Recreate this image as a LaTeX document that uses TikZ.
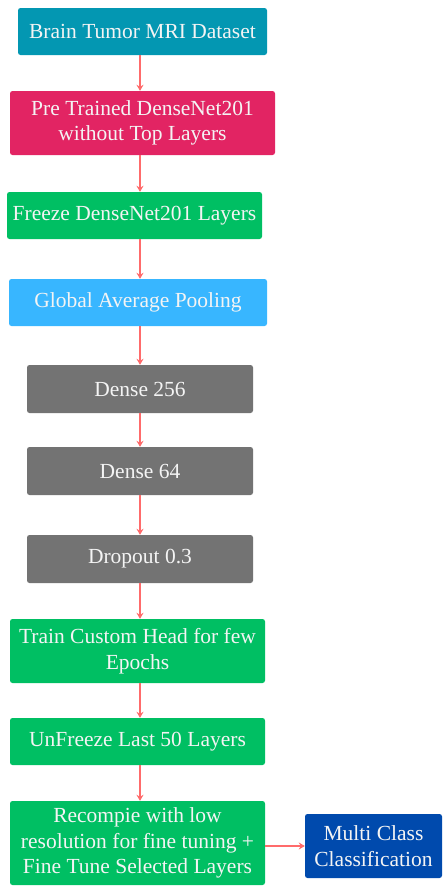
\documentclass[tikz,border=0pt]{standalone}
\usepackage{fontspec}
\setmainfont{Liberation Serif}
\usetikzlibrary{arrows.meta}
\definecolor{cteal}{HTML}{0397B2}
\definecolor{cpink}{HTML}{E22463}
\definecolor{cgreen}{HTML}{00BF63}
\definecolor{cblue}{HTML}{38B6FF}
\definecolor{cgray}{HTML}{737373}
\definecolor{cnavy}{HTML}{004AAD}
\definecolor{carrow}{HTML}{FF6B6B}
\definecolor{ctext}{HTML}{F4F4F4}
\begin{document}
\begin{tikzpicture}[x=1pt,y=-1pt,
  box/.style={rectangle, rounded corners=2.5pt, inner sep=0pt, text=ctext, align=center,
    font=\fontsize{21.5}{25.5}\selectfont},
  conn/.style={draw=carrow, line width=1.4pt, -{Stealth[length=6pt,width=7pt]}}]
\useasboundingbox (0,0) rectangle (444,886);
\node[box, fill=cteal, minimum width=249pt, minimum height=47pt] (n1) at (142.5,31.5) {Brain Tumor MRI Dataset};
\node[box, fill=cpink, minimum width=265pt, minimum height=64pt] (n2) at (142.5,123) {Pre Trained DenseNet201\\without Top Layers};
\node[box, fill=cgreen, minimum width=255pt, minimum height=47pt] (n3) at (134.5,215.5) {Freeze DenseNet201 Layers};
\node[box, fill=cblue, minimum width=258pt, minimum height=47pt] (n4) at (138,302.5) {Global Average Pooling};
\node[box, fill=cgray, minimum width=226pt, minimum height=48pt] (n5) at (140,389) {Dense 256};
\node[box, fill=cgray, minimum width=226pt, minimum height=48pt] (n6) at (140,471) {Dense 64};
\node[box, fill=cgray, minimum width=226pt, minimum height=48pt] (n7) at (140,559) {Dropout 0.3};
\node[box, fill=cgreen, minimum width=255pt, minimum height=64pt] (n8) at (137.5,651) {Train Custom Head for few\\Epochs};
\node[box, fill=cgreen, minimum width=255pt, minimum height=47pt] (n9) at (137.5,741.5) {UnFreeze Last 50 Layers};
\node[box, fill=cgreen, minimum width=255pt, minimum height=84pt] (n10) at (137.5,843) {Recompie with low\\resolution for fine tuning +\\Fine Tune Selected Layers};
\node[box, fill=cnavy, minimum width=137pt, minimum height=64pt] (n11) at (373.5,846) {Multi Class\\Classification};
\coordinate (ax) at (140,0);
\draw[conn] (n1.south -| ax) -- (n2.north -| ax);
\draw[conn] (n2.south -| ax) -- (n3.north -| ax);
\draw[conn] (n3.south -| ax) -- (n4.north -| ax);
\draw[conn] (n4.south -| ax) -- (n5.north -| ax);
\draw[conn] (n5.south -| ax) -- (n6.north -| ax);
\draw[conn] (n6.south -| ax) -- (n7.north -| ax);
\draw[conn] (n7.south -| ax) -- (n8.north -| ax);
\draw[conn] (n8.south -| ax) -- (n9.north -| ax);
\draw[conn] (n9.south -| ax) -- (n10.north -| ax);
\draw[conn] (n10.east |- n11) -- (n11.west);
\end{tikzpicture}
\end{document}
